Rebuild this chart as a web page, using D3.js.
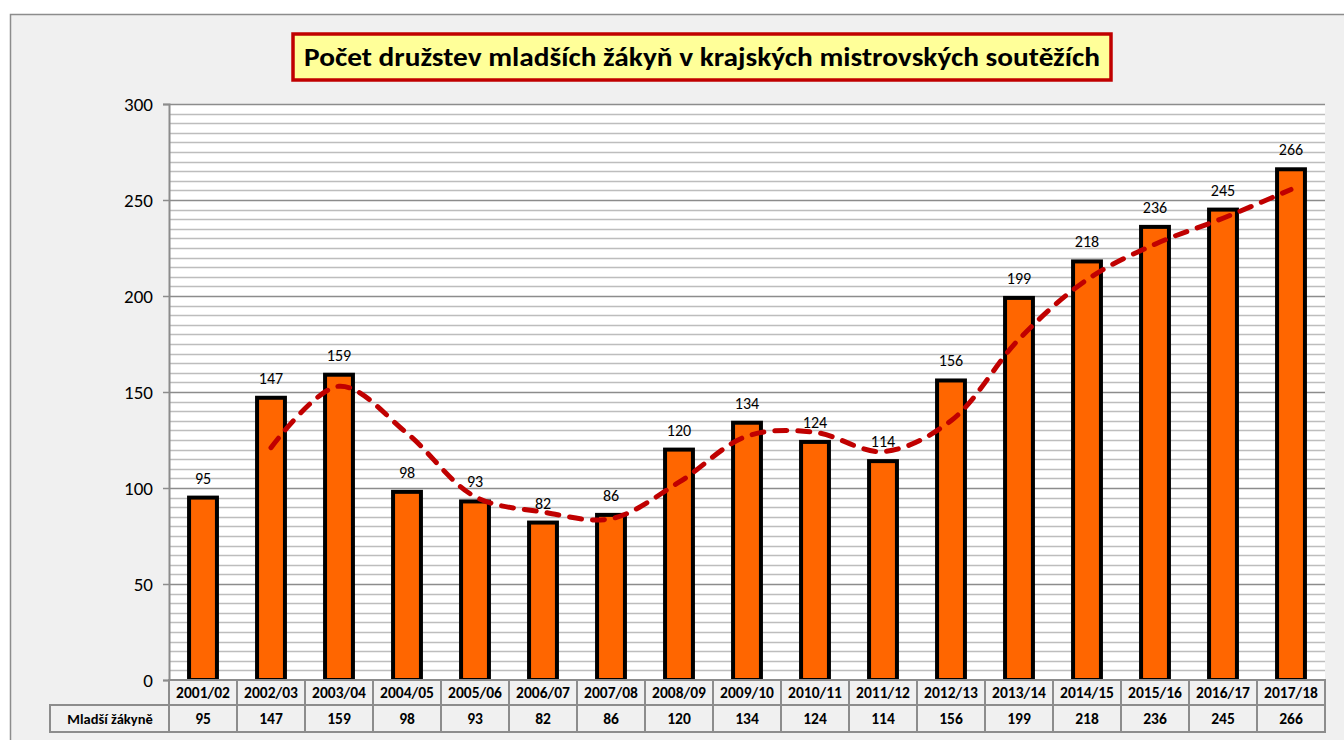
<!DOCTYPE html>
<html>
<head>
<meta charset="utf-8">
<script src="https://cdn.jsdelivr.net/npm/d3@7"></script>
<style>
  body { margin: 0; background: #fff; }
</style>
</head>
<body>
<div id="chart"></div>
<script>
// data
var seasons = ["2001/02","2002/03","2003/04","2004/05","2005/06","2006/07","2007/08","2008/09","2009/10","2010/11","2011/12","2012/13","2013/14","2014/15","2015/16","2016/17","2017/18"];
var teams = [95,147,159,98,93,82,86,120,134,124,114,156,199,218,236,245,266];
// klouzavý průměr (2 období)
var trend = [null,121,153,128.5,95.5,87.5,84,103,127,129,119,135,177.5,208.5,227,240.5,255.5];
var seriesName = "Mladší žákyně";
var chartTitle = "Počet družstev mladších žákyň v krajských mistrovských soutěžích";
var yTicks = [0,50,100,150,200,250,300];

var W = 1344, H = 740;
var margin = { top: 104, right: 19, bottom: 60, left: 169 };
var width = W - margin.left - margin.right;
var height = H - margin.top - margin.bottom;
var rowH = 25;
var font = "Carlito, Calibri, Lato, sans-serif";

var svg = d3.select("#chart").append("svg")
    .attr("width", W)
    .attr("height", H);

// chart frame
svg.append("rect")
  .attr("x", 10.5).attr("y", 14.5)
  .attr("width", W).attr("height", H)
  .attr("fill", "#f0f0f0")
  .attr("stroke", "#8c8c8c")
  .attr("stroke-width", 1.5);

var g = svg.append("g")
  .attr("transform", "translate(" + margin.left + "," + margin.top + ")");

var x = d3.scaleBand().domain(seasons).range([0, width]);
var y = d3.scaleLinear().domain([0, 300]).range([height, 0]);

// plot area
g.append("rect")
  .attr("width", width).attr("height", height)
  .attr("fill", "#fff");

// minor gridlines every 5
g.append("g")
  .selectAll("line")
  .data(d3.range(5, 300, 5).filter(function(v){ return v % 50 != 0; }))
  .enter().append("line")
  .attr("x1", 0).attr("x2", width)
  .attr("y1", function(d){ return Math.round(y(d)) + 0.5; })
  .attr("y2", function(d){ return Math.round(y(d)) + 0.5; })
  .attr("stroke", "#bdbdbd").attr("stroke-width", 1.5);

// major gridlines
g.append("g")
  .selectAll("line")
  .data(yTicks.slice(1))
  .enter().append("line")
  .attr("x1", 0).attr("x2", width)
  .attr("y1", function(d){ return Math.round(y(d)) + 0.5; })
  .attr("y2", function(d){ return Math.round(y(d)) + 0.5; })
  .attr("stroke", "#8c8c8c").attr("stroke-width", 1.5);

// y axis
var axisY = d3.axisLeft(y).tickValues(yTicks).tickSize(6).tickPadding(10);
var gy = g.append("g").call(axisY);
gy.select(".domain").attr("stroke", "#8c8c8c").attr("stroke-width", 2);
gy.selectAll(".tick line").attr("stroke", "#8c8c8c").attr("stroke-width", 1.5);
gy.selectAll(".tick text")
  .attr("font-family", font).attr("font-size", 19).attr("fill", "#000");

// bars
var barW = x.bandwidth() * 0.41;
g.append("g")
  .selectAll("rect")
  .data(teams)
  .enter().append("rect")
  .attr("x", function(d, i){ return x(seasons[i]) + (x.bandwidth() - barW) / 2; })
  .attr("y", function(d){ return y(d); })
  .attr("width", barW)
  .attr("height", function(d){ return height - y(d); })
  .attr("fill", "#ff6600")
  .attr("stroke", "#000")
  .attr("stroke-width", 4);

// value labels
g.append("g")
  .selectAll("text")
  .data(teams)
  .enter().append("text")
  .attr("x", function(d, i){ return x(seasons[i]) + x.bandwidth() / 2; })
  .attr("y", function(d){ return y(d) - 14; })
  .attr("text-anchor", "middle")
  .attr("font-family", font)
  .attr("font-size", 16)
  .text(function(d){ return d; });

// trend line
var line = d3.line()
  .defined(function(d){ return d != null; })
  .x(function(d, i){ return x(seasons[i]) + x.bandwidth() / 2; })
  .y(function(d){ return y(d); })
  .curve(d3.curveCatmullRom.alpha(0.5));

g.append("path")
  .datum(trend)
  .attr("d", line)
  .attr("fill", "none")
  .attr("stroke", "#c00000")
  .attr("stroke-width", 5)
  .attr("stroke-linecap", "round")
  .attr("stroke-dasharray", "12,11");

// data table
var table = g.append("g").attr("transform", "translate(0," + height + ")");
var cellStroke = "#8c8c8c";

seasons.forEach(function(s, i) {
  table.append("rect")
    .attr("x", x(s)).attr("y", 0)
    .attr("width", x.bandwidth()).attr("height", rowH)
    .attr("fill", "#f0f0f0").attr("stroke", cellStroke).attr("stroke-width", 2);
  table.append("rect")
    .attr("x", x(s)).attr("y", rowH)
    .attr("width", x.bandwidth()).attr("height", rowH + 2)
    .attr("fill", "#f0f0f0").attr("stroke", cellStroke).attr("stroke-width", 2);
  table.append("text")
    .attr("x", x(s) + x.bandwidth() / 2).attr("y", rowH / 2 + 5.5)
    .attr("text-anchor", "middle")
    .attr("font-family", font).attr("font-size", 15.5).attr("font-weight", "bold")
    .text(s);
  table.append("text")
    .attr("x", x(s) + x.bandwidth() / 2).attr("y", rowH + rowH / 2 + 6.5)
    .attr("text-anchor", "middle")
    .attr("font-family", font).attr("font-size", 15.5).attr("font-weight", "bold")
    .text(teams[i]);
});

table.append("rect")
  .attr("x", -119).attr("y", rowH)
  .attr("width", 119).attr("height", rowH + 2)
  .attr("fill", "#f0f0f0").attr("stroke", cellStroke).attr("stroke-width", 2);
table.append("text")
  .attr("x", -59).attr("y", rowH + rowH / 2 + 6.5)
  .attr("text-anchor", "middle")
  .attr("font-family", font).attr("font-size", 14.5).attr("font-weight", "bold")
  .text(seriesName);

// title box
var titleG = svg.append("g");
titleG.append("rect")
  .attr("x", 293).attr("y", 34)
  .attr("width", 818).attr("height", 46)
  .attr("fill", "#ffff99")
  .attr("stroke", "#c00000")
  .attr("stroke-width", 3.5);
titleG.append("text")
  .attr("x", 702).attr("y", 66)
  .attr("text-anchor", "middle")
  .attr("font-family", font)
  .attr("font-size", 26)
  .attr("font-weight", "bold")
  .attr("textLength", 796)
  .attr("lengthAdjust", "spacingAndGlyphs")
  .text(chartTitle);
</script>
</body>
</html>
